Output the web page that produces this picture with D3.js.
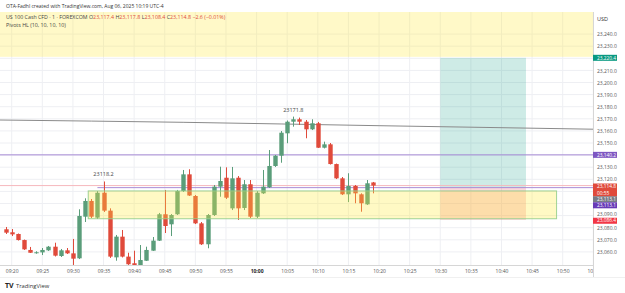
<!DOCTYPE html>
<html>
<head>
<meta charset="utf-8">
<script src="https://cdn.jsdelivr.net/npm/d3@7"></script>
<style>
  body { margin: 0; background: #fff; }
  svg { display: block; font-family: "Open Sans", Roboto, sans-serif; }
</style>
</head>
<body>
<div class="canva"></div>
<script>
// 1 minute candles, US 100 Cash CFD
const times = ["09:19","09:20","09:21","09:22","09:23","09:24","09:25","09:26","09:27","09:28",
  "09:29","09:30","09:31","09:32","09:33","09:34","09:35","09:36","09:37","09:38",
  "09:39","09:40","09:41","09:42","09:43","09:44","09:45","09:46","09:47","09:48",
  "09:49","09:50","09:51","09:52","09:53","09:54","09:55","09:56","09:57","09:58",
  "09:59","10:00","10:01","10:02","10:03","10:04","10:05","10:06","10:07","10:08",
  "10:09","10:10","10:11","10:12","10:13","10:14","10:15","10:16","10:17","10:18","10:19"];
const opens = [23078.7,23076.2,23074.8,23069.8,23061.6,23059.2,23059.6,23061.3,23064.3,23056.6,
  23061.3,23058.8,23054.7,23089.1,23102.1,23088.3,23108.9,23094.1,23055.5,23072.6,
  23056.1,23050.6,23048.6,23052.7,23061.0,23069.3,23091.1,23082.8,23091.1,23110.3,
  23124.1,23106.2,23083.6,23066.3,23090.5,23113.9,23121.3,23096.0,23121.3,23096.3,
  23115.9,23089.1,23108.4,23113.4,23131.0,23139.5,23158.0,23167.6,23169.6,23167.6,
  23161.3,23166.3,23146.1,23148.9,23132.6,23120.8,23107.6,23114.5,23107.6,23099.3,23117.4];
const highs = [23080.6,23078.9,23075.2,23070.2,23064.1,23060.5,23063.2,23064.9,23067.6,23062.4,
  23063.2,23070.7,23095.2,23104.3,23103.7,23110.3,23118.2,23096.0,23074.0,23078.1,
  23059.3,23061.0,23065.7,23064.3,23072.3,23092.2,23111.2,23091.3,23111.2,23127.7,
  23128.3,23107.0,23084.7,23091.3,23115.3,23130.4,23129.9,23130.2,23122.7,23119.4,
  23119.4,23110.3,23127.7,23144.2,23140.1,23159.9,23168.6,23171.8,23171.0,23169.0,
  23169.6,23167.4,23151.1,23150.0,23133.0,23121.9,23125.0,23115.3,23108.4,23119.4,23117.8];
const lows = [23074.8,23073.1,23069.4,23061.6,23059.1,23058.5,23057.4,23060.8,23056.2,23055.8,
  23058.3,23049.2,23054.1,23084.7,23088.0,23087.2,23093.0,23055.0,23052.7,23055.4,
  23049.2,23048.4,23048.4,23052.5,23060.8,23069.0,23075.6,23073.1,23090.5,23109.5,
  23106.2,23083.0,23065.7,23063.0,23089.7,23105.6,23103.7,23094.6,23086.4,23094.6,
  23088.0,23088.0,23107.9,23112.8,23130.2,23133.7,23149.8,23163.5,23164.9,23153.9,
  23160.7,23145.9,23145.5,23132.2,23120.2,23107.0,23101.2,23100.2,23093.2,23098.8,23108.4];
const closes = [23075.9,23074.5,23069.8,23062.1,23059.3,23059.7,23061.6,23064.3,23056.9,23061.3,
  23058.8,23054.4,23089.7,23102.1,23089.1,23108.9,23094.1,23056.1,23072.6,23056.1,
  23049.8,23049.2,23053.3,23061.6,23069.3,23091.1,23081.4,23090.5,23110.3,23124.1,
  23106.6,23083.6,23066.3,23090.5,23113.9,23118.6,23104.8,23120.8,23096.0,23115.9,
  23089.1,23108.9,23113.9,23131.0,23139.5,23158.5,23167.6,23169.6,23167.6,23161.3,
  23166.3,23146.1,23148.9,23132.6,23120.8,23107.6,23114.5,23108.4,23100.2,23116.7,23114.8];

// slow average line (gray)
const avgTimes = ["09:18","09:48","10:20","10:55"];
const avgValues = [23169.0,23167.1,23164.3,23161.4];

// pivot highs shown on chart
const pivotTimes = ["09:35","10:06"];
const pivotValues = [23118.2,23171.8];

// pivot zone box
const zoneTimes = ["09:33","10:49"];
const zonePrices = [23110.4,23087.4];

// long position tool
const posTimes = ["10:30","10:44"];
const posEntry = 23113.1, posTarget = 23220.4, posStop = 23086.4;
const topBandFrom = 23220.4;

const pivotLine1 = 23140.2;
const pivotLine2 = 23113.1, pivotLine2From = "09:34";
const lastPrice = 23114.8;

const priceTicks = [23060,23070,23080,23090,23120,23130,23150,23160,23170,23180,23190,23200,23210,23230,23240];
const gridPrices = d3.range(23060, 23250, 10);

const parse = d3.timeParse("%H:%M");
const W = 625, H = 293;
const plotR = 593, plotT = 12, plotB = 265;
const green = "#5a9d7a", red = "#e04a3b";

const svg = d3.select('.canva').append('svg')
  .attr('width', W).attr('height', H);

const x = d3.scaleTime().domain([parse("09:20"), parse("10:50")]).range([11.7, 562.7]);
const y = d3.scaleLinear().domain([23060, 23240]).range([251.9, 34.1]);
const bar = 6.12;

svg.append('clipPath').attr('id', 'plot')
  .append('rect').attr('x', 0).attr('y', plotT).attr('width', plotR).attr('height', plotB - plotT);

const plot = svg.append('g').attr('clip-path', 'url(#plot)');

// grid
const gridTimes = d3.timeMinute.every(5).range(parse("09:15"), parse("11:00"));
plot.selectAll('.vg').data(gridTimes).enter().append('line')
  .attr('x1', d => x(d)).attr('x2', d => x(d)).attr('y1', plotT).attr('y2', plotB)
  .attr('stroke', '#eeeff3').attr('stroke-width', 1);
plot.selectAll('.hg').data(gridPrices).enter().append('line')
  .attr('x1', 0).attr('x2', plotR).attr('y1', d => y(d)).attr('y2', d => y(d))
  .attr('stroke', '#eeeff3').attr('stroke-width', 1);

// top yellow band
plot.append('rect').attr('x', 0).attr('y', plotT).attr('width', plotR)
  .attr('height', y(topBandFrom) - plotT - 1)
  .attr('fill', 'rgba(255,235,59,0.28)');

// position tool
const px0 = x(parse(posTimes[0])), px1 = x(parse(posTimes[1]));
plot.append('rect').attr('x', px0).attr('y', y(posTarget)).attr('width', px1 - px0)
  .attr('height', y(posEntry) - y(posTarget)).attr('fill', 'rgba(8,153,129,0.2)');
plot.append('rect').attr('x', px0).attr('y', y(posEntry)).attr('width', px1 - px0)
  .attr('height', y(posStop) - y(posEntry)).attr('fill', 'rgba(242,54,69,0.2)');

// lines
const avgLine = d3.line().x(d => x(parse(d[0]))).y(d => y(d[1])).curve(d3.curveMonotoneX);
plot.append('path').datum(d3.zip(avgTimes, avgValues)).attr('d', avgLine)
  .attr('fill', 'none').attr('stroke', '#8a8a8a').attr('stroke-width', 1);

plot.append('line').attr('x1', 0).attr('x2', plotR)
  .attr('y1', y(pivotLine1)).attr('y2', y(pivotLine1))
  .attr('stroke', '#a78bd6').attr('stroke-width', 1);
plot.append('line').attr('x1', 0).attr('x2', plotR)
  .attr('y1', y(lastPrice)).attr('y2', y(lastPrice))
  .attr('stroke', '#f6b8bd').attr('stroke-width', 1);
plot.append('line').attr('x1', x(parse(pivotLine2From))).attr('x2', plotR)
  .attr('y1', y(pivotLine2)).attr('y2', y(pivotLine2))
  .attr('stroke', '#a78bd6').attr('stroke-width', 1);

// candles
const candles = times.map((t, i) => ({ t: parse(t), o: opens[i], h: highs[i], l: lows[i], c: closes[i] }));
const cg = plot.selectAll('.candle').data(candles).enter().append('g');
cg.append('line')
  .attr('x1', d => Math.round(x(d.t)) + 0.5).attr('x2', d => Math.round(x(d.t)) + 0.5)
  .attr('y1', d => y(d.h)).attr('y2', d => y(d.l))
  .attr('stroke', d => d.c >= d.o ? green : red).attr('stroke-width', 1);
cg.append('rect')
  .attr('x', d => Math.round(x(d.t)) + 0.5 - 2.2).attr('width', 4.4)
  .attr('y', d => y(Math.max(d.o, d.c)))
  .attr('height', d => Math.max(1, Math.abs(y(d.o) - y(d.c))))
  .attr('fill', d => d.c >= d.o ? green : red);

// pivot zone box (drawn over candles)
const zx0 = x(parse(zoneTimes[0])) - bar / 2, zx1 = x(parse(zoneTimes[1]));
plot.append('rect').attr('x', zx0).attr('y', y(zonePrices[0]))
  .attr('width', zx1 - zx0).attr('height', y(zonePrices[1]) - y(zonePrices[0]))
  .attr('fill', 'rgba(255,235,59,0.3)')
  .attr('stroke', 'rgba(150,205,140,0.9)').attr('stroke-width', 1);

// pivot high labels
plot.selectAll('.ph').data(d3.zip(pivotTimes, pivotValues)).enter().append('text')
  .attr('x', d => x(parse(d[0]))).attr('y', d => y(d[1]) - 5)
  .attr('text-anchor', 'middle').attr('font-size', 5.5).attr('fill', '#444')
  .text(d => d[1].toFixed(1));

// frame lines
svg.append('line').attr('x1', plotR + 0.5).attr('x2', plotR + 0.5).attr('y1', plotT).attr('y2', 278)
  .attr('stroke', '#d6d6d6');
svg.append('line').attr('x1', 0).attr('x2', plotR).attr('y1', plotB + 0.5).attr('y2', plotB + 0.5)
  .attr('stroke', '#d6d6d6');
svg.append('line').attr('x1', 0).attr('x2', W).attr('y1', 277.5).attr('y2', 277.5)
  .attr('stroke', '#f0f0f0');

// x axis (clip box is in the axis group's own coordinates)
svg.append('clipPath').attr('id', 'xclip')
  .append('rect').attr('x', 0).attr('y', 0).attr('width', plotR).attr('height', 12);
const hm = d3.timeFormat("%H:%M");
const xAxis = svg.append('g').attr('transform', `translate(0,${plotB})`)
  .attr('clip-path', 'url(#xclip)')
  .call(d3.axisBottom(x).tickValues(d3.timeMinute.every(5).range(parse("09:20"), parse("11:00")))
    .tickSize(0).tickPadding(4).tickFormat(hm));
xAxis.select('.domain').remove();
xAxis.selectAll('text').attr('font-size', 5)
  .attr('font-family', '"Open Sans", Roboto, sans-serif')
  .attr('font-weight', d => hm(d) === "10:00" ? 'bold' : null)
  .attr('fill', d => hm(d) === "10:00" ? '#222' : '#555');

// y axis
const fmt = d3.format(",.1f");
const yAxis = svg.append('g').attr('transform', `translate(${plotR + 3},0)`)
  .call(d3.axisRight(y).tickValues(priceTicks).tickSize(0).tickPadding(1).tickFormat(fmt));
yAxis.select('.domain').remove();
yAxis.selectAll('text').attr('font-size', 5).attr('fill', '#555')
  .attr('font-family', '"Open Sans", Roboto, sans-serif');
// nudge the label sitting just above the stop tag
yAxis.selectAll('.tick').filter(d => d === 23090).select('text').attr('dy', '-0.05em');

svg.append('text').attr('x', 597).attr('y', 21).attr('font-size', 5.5).attr('fill', '#333').text('USD');

// price labels on the axis
const tags = [
  { yc: y(posTarget), col: '#089981', txt: fmt(posTarget) },
  { yc: y(pivotLine1), col: '#7e57c2', txt: fmt(pivotLine1) },
  { yc: 190, col: '#e04a3b', txt: fmt(lastPrice), sub: '00:55' },
  { yc: 199.3, col: '#787b86', txt: fmt(posEntry) },
  { yc: 205.3, col: '#673ab7', txt: fmt(pivotLine2) },
  { yc: y(posStop) + 0.8, col: '#f23645', txt: fmt(posStop) }
];
const tg = svg.selectAll('.tag').data(tags).enter().append('g');
tg.append('rect').attr('x', plotR).attr('width', 24)
  .attr('y', d => d.sub ? d.yc - 6.5 : d.yc - 3)
  .attr('height', d => d.sub ? 13 : 6).attr('fill', d => d.col);
tg.append('text').attr('x', plotR + 4).attr('y', d => d.sub ? d.yc - 1.6 : d.yc + 1.7)
  .attr('font-size', 4.8).attr('fill', '#fff').text(d => d.txt);
tg.filter(d => d.sub).append('text').attr('x', plotR + 4).attr('y', d => d.yc + 4.6)
  .attr('font-size', 4.8).attr('fill', '#fff').text(d => d.sub);

// header and legend
svg.append('text').attr('x', 6).attr('y', 7.5).attr('font-size', 5).attr('fill', '#333')
  .text('OTA-Fadhl created with TradingView.com, Aug 06, 2025 10:19 UTC-4');
const leg = svg.append('text').attr('x', 6).attr('y', 19).attr('font-size', 5.3).attr('fill', '#444');
leg.append('tspan').text('US 100 Cash CFD · 1 · FOREXCOM  ');
const last = candles[candles.length - 1];
[['O', last.o], ['H', last.h], ['L', last.l], ['C', last.c]].forEach(p => {
  leg.append('tspan').text(' ' + p[0]);
  leg.append('tspan').attr('fill', red).text(fmt(p[1]));
});
leg.append('tspan').attr('fill', red).text('  −2.6 (−0.01%)');
svg.append('text').attr('x', 6).attr('y', 27).attr('font-size', 5.3).attr('fill', '#444')
  .text('Pivots HL (10, 10, 10, 10)');

// logo
svg.append('text').attr('x', 5).attr('y', 287.5).attr('font-size', 7).attr('font-weight', 'bold')
  .attr('fill', '#222').text('TV');
svg.append('text').attr('x', 16).attr('y', 287.5).attr('font-size', 5.8).attr('fill', '#333')
  .text('TradingView');
</script>
</body>
</html>
